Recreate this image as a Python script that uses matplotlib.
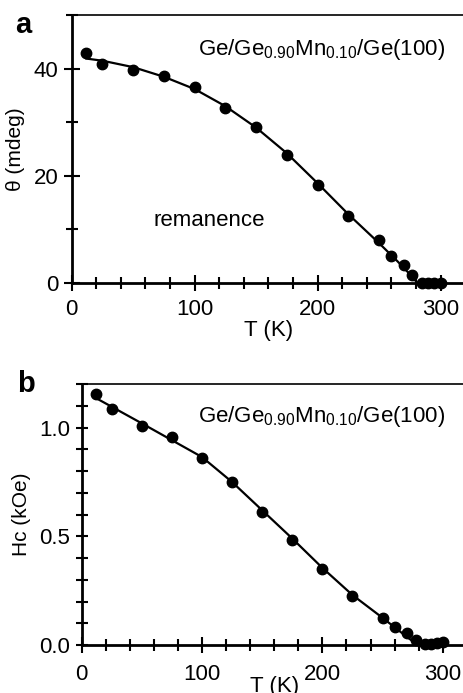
"""
Ge/GeMn/Ge: remanence and coercive field versus temperature
"""
import matplotlib
matplotlib.use("Agg")
import matplotlib.pyplot as plt
from matplotlib.ticker import MultipleLocator, FormatStrFormatter

plt.rcParams['font.family'] = ['Liberation Sans', 'DejaVu Sans']

# panel a: remanence (mdeg)
temp_a = [12, 25, 50, 75, 100, 125, 150, 175, 200, 225, 250, 260, 270, 277, 285, 290, 295, 300]
theta = [42.9, 40.8, 39.7, 38.6, 36.6, 32.7, 29.1, 23.9, 18.3, 12.4, 7.9, 5.0, 3.4, 1.4,
         0.0, 0.0, 0.0, 0.0]
fit_temp_a = [12, 25, 50, 75, 100, 125, 150, 175, 200, 225, 250, 265, 275, 281, 300]
fit_theta = [41.9, 41.5, 40.3, 38.5, 36.2, 33.0, 29.0, 24.2, 18.6, 12.8, 7.4, 4.0, 1.6, 0.0, 0.0]

# panel b: coercive field (kOe)
temp_b = [12, 25, 50, 75, 100, 125, 150, 175, 200, 225, 250, 260, 270, 278, 285, 290, 295, 300]
hc = [1.155, 1.084, 1.008, 0.959, 0.862, 0.752, 0.613, 0.483, 0.348, 0.225, 0.126, 0.081,
      0.057, 0.023, 0.005, 0.005, 0.008, 0.012]
fit_temp_b = [14, 50, 100, 125, 150, 175, 200, 225, 250, 265, 279, 300]
fit_hc = [1.13, 1.02, 0.865, 0.75, 0.62, 0.49, 0.355, 0.23, 0.125, 0.06, 0.0, 0.0]

sample = r'Ge/Ge$_{\mathregular{0.90}}$Mn$_{\mathregular{0.10}}$/Ge(100)'


def style_axes(ax, ymax, ymajor, yminor, xpad):
    ax.set_xlim(0, 320)
    ax.set_ylim(0, ymax)
    ax.xaxis.set_major_locator(MultipleLocator(100))
    ax.xaxis.set_minor_locator(MultipleLocator(20))
    ax.yaxis.set_major_locator(MultipleLocator(ymajor))
    ax.yaxis.set_minor_locator(MultipleLocator(yminor))
    ax.tick_params(which='both', direction='inout', width=1.5, labelsize=16, pad=4)
    ax.tick_params(which='major', length=11)
    ax.tick_params(which='minor', length=8)
    ax.tick_params(axis='x', which='major', pad=xpad)
    ax.spines['right'].set_visible(False)
    for side in ['left', 'bottom']:
        ax.spines[side].set_linewidth(2)
    ax.spines['top'].set_linewidth(1.2)


fig = plt.figure(figsize=(4.64, 6.93), dpi=100)

ax1 = fig.add_axes([0.1545, 0.592, 0.848, 0.386])
ax1.plot(fit_temp_a, fit_theta, color='black', lw=1.6, zorder=2)
ax1.plot(temp_a, theta, 'o', color='black', ms=7.5, zorder=3, clip_on=False)
style_axes(ax1, 50, 20, 10, 6)
ax1.set_xlabel('T (K)', fontsize=16, labelpad=0)
ax1.set_ylabel('θ (mdeg)', fontsize=15, labelpad=6)
ax1.text(0.949, 0.851, sample, transform=ax1.transAxes, fontsize=16, ha='right', va='baseline')
ax1.text(0.207, 0.212, 'remanence', transform=ax1.transAxes, fontsize=16, va='baseline')
fig.text(0.032, 0.952, 'a', fontsize=21, fontweight='bold')

ax2 = fig.add_axes([0.176, 0.0693, 0.83, 0.3762])
ax2.plot(fit_temp_b, fit_hc, color='black', lw=1.6, zorder=2)
ax2.plot(temp_b, hc, 'o', color='black', ms=7.5, zorder=3, clip_on=False)
style_axes(ax2, 1.2, 0.5, 0.1, 8)
ax2.tick_params(axis='y', which='both', length=9)
ax2.yaxis.set_major_formatter(FormatStrFormatter('%.1f'))
ax2.set_xlabel('T (K)', fontsize=16, labelpad=-6)
ax2.set_ylabel('Hc (kOe)', fontsize=15, labelpad=6)
ax2.text(0.944, 0.857, sample, transform=ax2.transAxes, fontsize=16, ha='right', va='baseline')
fig.text(0.036, 0.434, 'b', fontsize=21, fontweight='bold')

fig.savefig('out.png', dpi=100)
